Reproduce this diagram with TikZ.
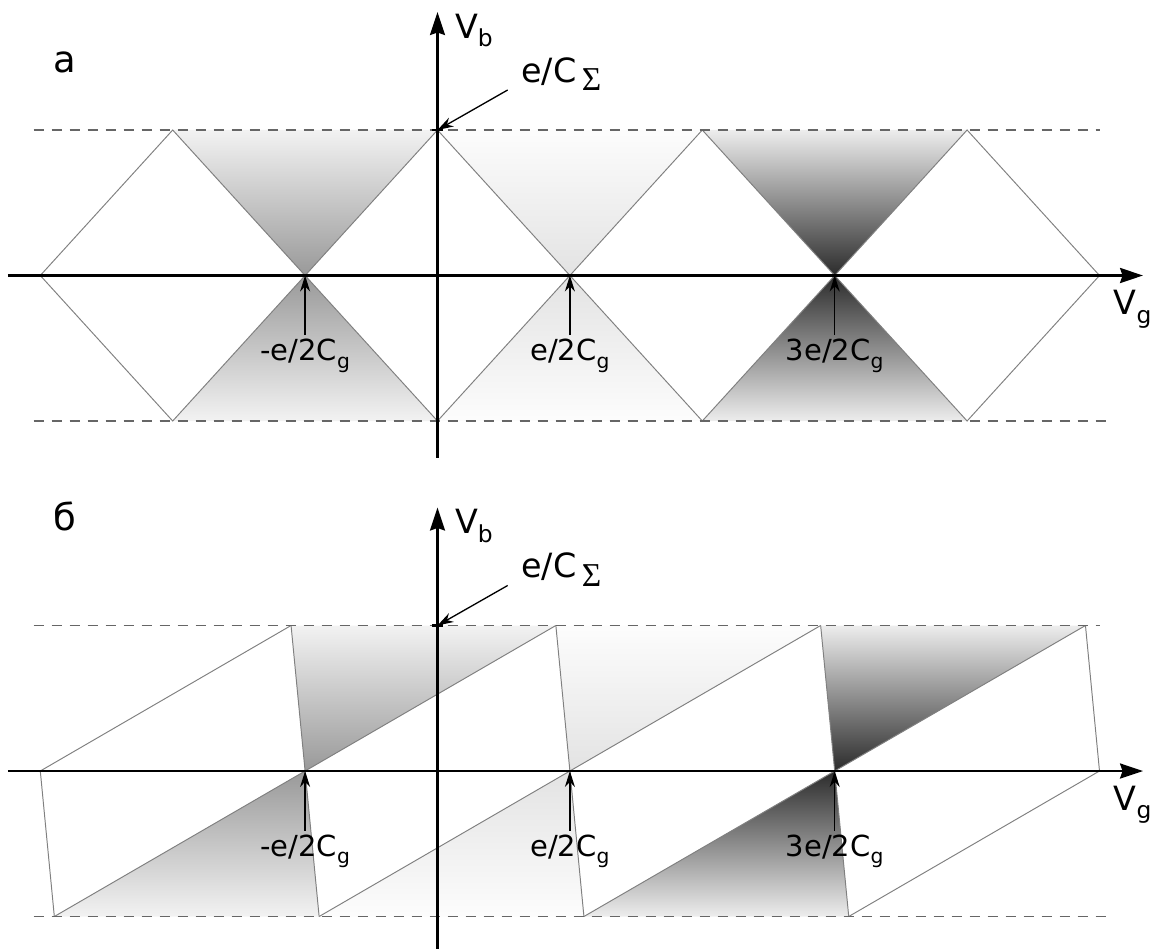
\documentclass[tikz,border=0pt]{standalone}
\usepackage{fontspec}
\setmainfont{DejaVu Sans}
\newfontfamily\sigmafont{Liberation Serif}
\usetikzlibrary{arrows.meta}

\definecolor{edgegray}{gray}{0.5}
\definecolor{guidegray}{gray}{0.4}
\definecolor{tipone}{gray}{0.6}
\definecolor{baseone}{gray}{0.95}
\definecolor{tiptwo}{gray}{0.89}
\definecolor{basetwo}{gray}{0.99}
\definecolor{tipthree}{gray}{0.17}
\definecolor{basethree}{gray}{0.93}

% lowered, smaller index
\newcommand{\lowidx}[2][0.7]{\raisebox{-0.25em}{\scalebox{#1}{#2}}}

% axes, guides and labels of one panel: #1 prefix, #2 lower end of V_b axis
\newcommand{\panelaxes}[2]{%
  \draw[guide] (-3.05,1) -- (5.0,1);
  \draw[guide] (-3.05,-1) -- (5.06,-1);
  \draw[axis] (-3.244,0) -- (5.329,0);
  \draw[axis] (0,#2) -- (0,1.811);
  \draw[line width=1.4pt] (-0.04,1) -- (0.04,1);
  \node[axislbl, anchor=north west] (#1vb) at (0.13,1.8) {V\lowidx{b}};
  \node[axislbl, anchor=north east] (#1vg) at (5.395,-0.1) {V\lowidx{g}};
  \coordinate (#1top) at (0,1);
  \coordinate (#1tail) at (0.53,1.275);
  \node[axislbl, anchor=north west] (#1sum) at (0.63,1.5) {e/C\,\lowidx[1.0]{\sigmafont Σ}};
  \draw[pointer] (#1tail) -- (#1top);
  \foreach \u/\n/\txt in {-1/m1/{-e/2C}, 1/p1/{e/2C}, 3/p3/{3e/2C}} {
    \coordinate (#1x\n) at (\u,0);
    \node[lbl] (#1lbl\n) at (\u,-0.409) {\txt\lowidx{g}};
    \draw[pointer] (#1lbl\n) -- (#1x\n);
  }
}

\begin{document}
\begin{tikzpicture}[x=2.648cm, y=2.91cm,
    edge/.style={draw=edgegray, line width=0.55pt},
    guide/.style={draw=guidegray, line width=0.8pt, dash pattern=on 0.2cm off 0.16cm},
    axis/.style={line width=1.4pt, -{Stealth[length=0.46cm, width=0.3cm, inset=0.05cm]}},
    pointer/.style={line width=0.75pt, -{Stealth[length=0.32cm, width=0.2cm]}},
    lbl/.style={font=\fontsize{16.5}{18}\selectfont, anchor=north, inner sep=2.3pt},
    axislbl/.style={font=\fontsize{19}{21}\selectfont, inner sep=0pt},
    panellbl/.style={font=\fontsize{21}{23}\selectfont, anchor=base, inner sep=0pt}]
  \useasboundingbox (-8.75cm,5.51cm) rectangle (14.37cm,-13.45cm);

  % panel a: diamonds
  \foreach \u/\c in {-1/one, 1/two, 3/three} {
    \shade[top color=base\c, bottom color=tip\c] (\u-1,1) -- (\u,0) -- (\u+1,1) -- cycle;
    \shade[top color=tip\c, bottom color=base\c] (\u-1,-1) -- (\u,0) -- (\u+1,-1) -- cycle;
  }
  \draw[edge] (-3,0) -- (-2,1) -- (-1,0) -- (0,-1) -- (1,0) -- (2,1) -- (3,0) -- (4,-1)
    -- (5,0) -- (4,1) -- (3,0) -- (2,-1) -- (1,0) -- (0,1) -- (-1,0) -- (-2,-1) -- cycle;
  \panelaxes{a}{-1.254}
  \node[panellbl] (tagA) at (-2.813,1.392) {а};

  % panel b: slanted cells
  \begin{scope}[yshift=-9.91cm]
    \def\dd{0.106}
    \foreach \u/\c in {-1/one, 1/two, 3/three} {
      \shade[top color=base\c, bottom color=tip\c] (\u-\dd,1) -- (\u,0) -- (\u+2-\dd,1) -- cycle;
      \shade[top color=tip\c, bottom color=base\c] (\u-2+\dd,-1) -- (\u,0) -- (\u+\dd,-1) -- cycle;
    }
    \foreach \u in {-1,1,3}
      \draw[edge] (\u-\dd,1) -- (\u+\dd,-1);
    \draw[edge] (-3,0) -- (-3+\dd,-1);
    \draw[edge] (5-\dd,1) -- (5,0);
    \foreach \u in {-3,-1,1,3} {
      \draw[edge] (\u,0) -- (\u+2-\dd,1);
      \draw[edge] (\u+\dd,-1) -- (\u+2,0);
    }
    \panelaxes{b}{-1.22}
    \node[panellbl] (tagB) at (-2.813,1.656) {б};
  \end{scope}
\end{tikzpicture}
\end{document}
